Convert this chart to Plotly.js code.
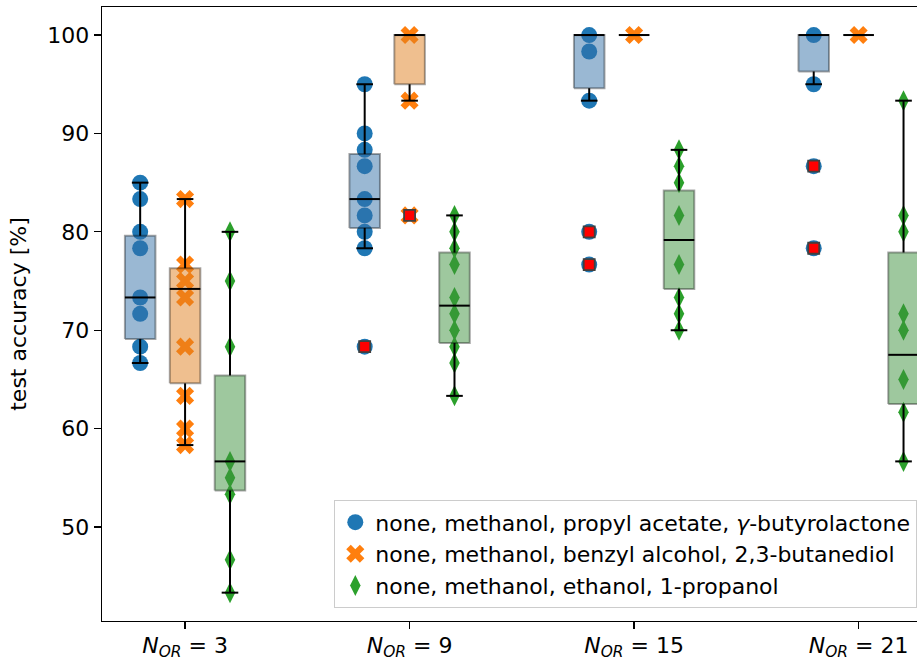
<!DOCTYPE html>
<html>
<head>
<meta charset="utf-8">
<script src="https://cdn.plot.ly/plotly-3.0.1.min.js"></script>
<style>html,body{margin:0;padding:0;overflow:hidden;background:#fff;}</style>
</head>
<body>
<div id="chart" style="width:917px;height:660px;"></div>
<script>
// ---- data ----
const nOR = [3, 9, 15, 21];
const seriesNames = [
  'none, methanol, propyl acetate, <i>γ</i>-butyrolactone',
  'none, methanol, benzyl alcohol, 2,3-butanediol',
  'none, methanol, ethanol, 1-propanol'
];
// individual test accuracies per N_OR group
const bluePoints = [
  [85, 83.33, 80, 78.33, 73.33, 71.67, 68.33, 66.67],
  [95, 90, 88.33, 86.67, 83.33, 81.67, 80, 78.33, 68.33],
  [100, 98.33, 93.33, 80, 76.67],
  [100, 95, 86.67, 78.33]
];
const orangePoints = [
  [83.33, 76.67, 75, 73.33, 68.33, 63.33, 60, 58.33],
  [100, 93.33, 81.67],
  [100],
  [100]
];
const greenPoints = [
  [80, 75, 68.33, 56.67, 55, 53.33, 46.67, 43.33],
  [81.67, 80, 78.33, 76.67, 73.33, 71.67, 70, 68.33, 66.67, 63.33],
  [88.33, 86.67, 85, 81.67, 76.67, 73.33, 71.67, 70],
  [93.33, 81.67, 80, 71.67, 70, 65, 61.67, 56.67]
];
// box statistics
const blueQ1 = [69.1, 80.4, 94.6, 96.3];
const blueMed = [73.33, 83.33, 100, 100];
const blueQ3 = [79.6, 87.9, 100, 100];
const blueLo = [66.67, 78.33, 93.33, 95];
const blueHi = [85, 95, 100, 100];
const orangeQ1 = [64.6, 95, 100, 100];
const orangeMed = [74.2, 100, 100, 100];
const orangeQ3 = [76.3, 100, 100, 100];
const orangeLo = [58.33, 93.33, 100, 100];
const orangeHi = [83.33, 100, 100, 100];
const greenQ1 = [53.7, 68.7, 74.2, 62.5];
const greenMed = [56.67, 72.5, 79.17, 67.5];
const greenQ3 = [65.4, 77.9, 84.2, 77.9];
const greenLo = [43.33, 63.33, 70, 56.67];
const greenHi = [80, 81.67, 88.33, 93.33];
// outliers (fliers)
const blueOut = [[], [68.33], [80, 76.67], [86.67, 78.33]];
const orangeOut = [[], [81.67], [], []];
const greenOut = [[], [], [], []];

// ---- style ----
const FONT = 'DejaVu Sans, Liberation Sans, sans-serif';
const FS = 22;
const OFFSETS = [-0.2, 0, 0.2];
const BOX_HALF = 0.068;
const CAP_HALF = 0.037;

const series = [
  {name: seriesNames[0], pts: bluePoints, q1: blueQ1, med: blueMed, q3: blueQ3, lo: blueLo, hi: blueHi, out: blueOut,
   color: '#1f77b4', fill: 'rgba(53,113,168,0.5)', symbol: 'circle', size: 16},
  {name: seriesNames[1], pts: orangePoints, q1: orangeQ1, med: orangeMed, q3: orangeQ3, lo: orangeLo, hi: orangeHi, out: orangeOut,
   color: '#ff7f0e', fill: 'rgba(223,127,31,0.5)', symbol: 'x', size: 16},
  {name: seriesNames[2], pts: greenPoints, q1: greenQ1, med: greenMed, q3: greenQ3, lo: greenLo, hi: greenHi, out: greenOut,
   color: '#2ca02c', fill: 'rgba(61,145,61,0.5)', symbol: 'diamond-tall', size: 15}
];

const pointTraces = [], boxTraces = [], whiskerTraces = [], outTraces = [];
series.forEach((s, si) => {
  const off = OFFSETS[si];
  const px = [], py = [];
  s.pts.forEach((arr, g) => arr.forEach(v => { px.push(g + off); py.push(v); }));
  pointTraces.push({
    type: 'scatter', mode: 'markers', x: px, y: py, name: s.name,
    legendgroup: 'g' + si,
    marker: {color: s.color, symbol: s.symbol, size: s.size, line: {width: 0}},
    hoverinfo: 'y'
  });
  const bx = [], by = [];
  s.q1.forEach((q1, g) => {
    const c = g + off, q3 = s.q3[g];
    bx.push(c - BOX_HALF, c + BOX_HALF, c + BOX_HALF, c - BOX_HALF, c - BOX_HALF, null);
    by.push(q1, q1, q3, q3, q1, null);
  });
  boxTraces.push({
    type: 'scatter', mode: 'lines', x: bx, y: by, fill: 'toself', fillcolor: s.fill,
    line: {color: 'rgba(0,0,0,0.35)', width: 2}, showlegend: false, hoverinfo: 'skip'
  });
  const wx = [], wy = [];
  s.q1.forEach((q1, g) => {
    const c = g + off;
    wx.push(c, c, null, c, c, null);
    wy.push(s.q3[g], s.hi[g], null, q1, s.lo[g], null);
    wx.push(c - CAP_HALF, c + CAP_HALF, null, c - CAP_HALF, c + CAP_HALF, null);
    wy.push(s.hi[g], s.hi[g], null, s.lo[g], s.lo[g], null);
    wx.push(c - BOX_HALF, c + BOX_HALF, null);
    wy.push(s.med[g], s.med[g], null);
  });
  whiskerTraces.push({
    type: 'scatter', mode: 'lines', x: wx, y: wy,
    line: {color: '#000000', width: 2}, showlegend: false, hoverinfo: 'skip'
  });
  const ox = [], oy = [];
  s.out.forEach((arr, g) => arr.forEach(v => { ox.push(g + off); oy.push(v); }));
  outTraces.push({
    type: 'scatter', mode: 'markers', x: ox, y: oy, showlegend: false,
    marker: {color: '#ff0000', symbol: 'square', size: 11, line: {color: '#404040', width: 1.8}},
    hoverinfo: 'y'
  });
});

const data = [...pointTraces, ...boxTraces, ...whiskerTraces, ...outTraces];

const layout = {
  width: 917, height: 660,
  margin: {l: 102, r: 0, t: 7, b: 39},
  paper_bgcolor: '#ffffff', plot_bgcolor: '#ffffff',
  font: {family: FONT, size: FS, color: '#000000'},
  showlegend: true,
  xaxis: {
    range: [-0.37, 3.26], showgrid: false, zeroline: false,
    tickmode: 'array', tickvals: nOR.map((n, i) => i),
    ticktext: nOR.map(n => '<i>N</i><sub><i>OR</i></sub> = ' + n),
    ticks: 'outside', ticklen: 7, tickwidth: 1.3, tickcolor: '#000',
    ticklabelstandoff: -3,
    showline: true, linecolor: '#000', linewidth: 1.3, mirror: true,
    tickfont: {family: FONT, size: FS, color: '#000'}
  },
  yaxis: {
    range: [40.45, 102.85], showgrid: false, zeroline: false,
    tickmode: 'array', tickvals: [50, 60, 70, 80, 90, 100],
    ticks: 'outside', ticklen: 7, tickwidth: 1.3, tickcolor: '#000',
    showline: true, linecolor: '#000', linewidth: 1.3, mirror: false,
    tickfont: {family: FONT, size: FS, color: '#000'},
    title: {text: 'test accuracy [%]', font: {family: FONT, size: FS, color: '#000'}, standoff: 14}
  },
  legend: {
    x: 1, xanchor: 'right', y: 0.021, yanchor: 'bottom',
    bgcolor: 'rgba(255,255,255,0.8)', bordercolor: '#cccccc', borderwidth: 1.3,
    font: {family: FONT, size: FS, color: '#000'},
    traceorder: 'grouped', tracegroupgap: 0
  }
};

Plotly.newPlot('chart', data, layout, {displayModeBar: false, staticPlot: true});
</script>
</body>
</html>
